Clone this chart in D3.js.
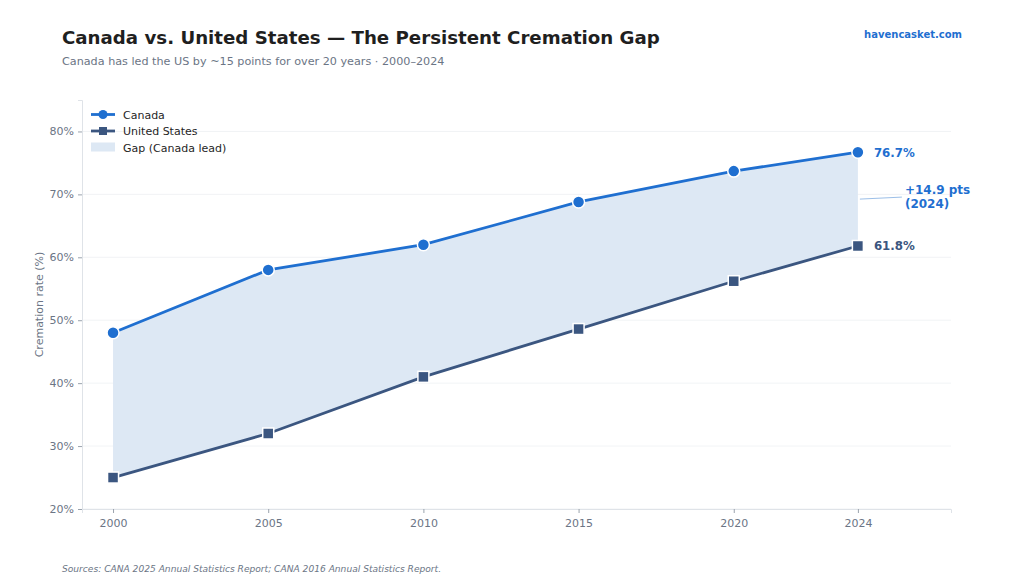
<!DOCTYPE html>
<html>
<head>
<meta charset="utf-8">
<script src="https://cdn.jsdelivr.net/npm/d3@7"></script>
<style>
  body { margin: 0; background: #fff; }
  svg { display: block; font-family: "DejaVu Sans", sans-serif; }
</style>
</head>
<body>
<div id="chart"></div>
<script>
// data
const years = [2000, 2005, 2010, 2015, 2020, 2024];
const canada = [48.0, 58.0, 62.0, 68.8, 73.7, 76.7];
const unitedStates = [25.0, 32.0, 41.0, 48.6, 56.2, 61.8];
const yTicks = [20, 30, 40, 50, 60, 70, 80];
const xTicks = [2000, 2005, 2010, 2015, 2020, 2024];

const W = 1024, H = 585;
const m = { left: 82, right: 73, top: 100, bottom: 76 };

const blue = '#1f6fd0';
const navy = '#3b5680';
const grey = '#6b7585';

const svg = d3.select('#chart').append('svg')
  .attr('width', W).attr('height', H);

const x = d3.scaleLinear().domain([1999, 2027]).range([m.left, W - m.right]);
const y = d3.scaleLinear().domain([20, 85]).range([H - m.bottom, m.top]);

// title block
svg.append('text').attr('x', 62).attr('y', 44)
  .attr('font-size', 18.2).attr('font-weight', 'bold').attr('fill', '#1f1f1f')
  .text('Canada vs. United States — The Persistent Cremation Gap');
svg.append('text').attr('x', 62).attr('y', 64.5)
  .attr('font-size', 11.2).attr('fill', grey)
  .text('Canada has led the US by ~15 points for over 20 years · 2000–2024');
svg.append('text').attr('x', 962).attr('y', 38).attr('text-anchor', 'end')
  .attr('font-size', 10).attr('font-weight', 'bold').attr('fill', blue)
  .text('havencasket.com');
svg.append('text').attr('x', 62).attr('y', 571.5)
  .attr('font-size', 9.1).attr('font-style', 'italic').attr('fill', grey)
  .text('Sources: CANA 2025 Annual Statistics Report; CANA 2016 Annual Statistics Report.');

// grid
svg.append('g').selectAll('line').data(yTicks).join('line')
  .attr('x1', m.left).attr('x2', W - m.right)
  .attr('y1', d => y(d)).attr('y2', d => y(d))
  .attr('stroke', '#eef0f3').attr('stroke-width', 0.8);

// axes
const yAxis = svg.append('g').attr('transform', `translate(${m.left},0)`)
  .call(d3.axisLeft(y).tickValues(yTicks).tickFormat(d => d + '%').tickSize(4).tickPadding(4));
const xAxis = svg.append('g').attr('transform', `translate(0,${H - m.bottom})`)
  .call(d3.axisBottom(x).tickValues(xTicks).tickFormat(d3.format('d')).tickSize(4).tickPadding(6));
[yAxis, xAxis].forEach(a => {
  a.select('.domain').attr('stroke', '#dfe3e8');
  a.selectAll('.tick line').attr('stroke', '#9aa3ad');
  a.selectAll('.tick text').attr('fill', grey).attr('font-size', 11)
    .attr('font-family', '"DejaVu Sans", sans-serif');
});

svg.append('text')
  .attr('transform', `translate(43,${y(52.5)}) rotate(-90)`)
  .attr('text-anchor', 'middle').attr('font-size', 11).attr('fill', grey)
  .text('Cremation rate (%)');

const rows = years.map((yr, i) => ({ yr, ca: canada[i], us: unitedStates[i] }));

// gap band
svg.append('path').datum(rows)
  .attr('d', d3.area().x(d => x(d.yr)).y0(d => y(d.us)).y1(d => y(d.ca)))
  .attr('fill', '#dde8f4');

// lines
const line = key => d3.line().x(d => x(d.yr)).y(d => y(d[key]));
svg.append('path').datum(rows).attr('d', line('us'))
  .attr('fill', 'none').attr('stroke', navy).attr('stroke-width', 2.8);
svg.append('path').datum(rows).attr('d', line('ca'))
  .attr('fill', 'none').attr('stroke', blue).attr('stroke-width', 2.8);

// markers
svg.append('g').selectAll('rect').data(rows).join('rect')
  .attr('x', d => x(d.yr) - 5.5).attr('y', d => y(d.us) - 5.5)
  .attr('width', 11).attr('height', 11)
  .attr('fill', navy).attr('stroke', '#fff').attr('stroke-width', 1.5);
svg.append('g').selectAll('circle').data(rows).join('circle')
  .attr('cx', d => x(d.yr)).attr('cy', d => y(d.ca)).attr('r', 6)
  .attr('fill', blue).attr('stroke', '#fff').attr('stroke-width', 1.5);

// end labels
const last = rows[rows.length - 1];
svg.append('text').attr('x', x(last.yr) + 16).attr('y', y(last.ca) + 4.5)
  .attr('font-size', 11.8).attr('font-weight', 'bold').attr('fill', blue)
  .text(last.ca.toFixed(1) + '%');
svg.append('text').attr('x', x(last.yr) + 16).attr('y', y(last.us) + 4.5)
  .attr('font-size', 11.8).attr('font-weight', 'bold').attr('fill', navy)
  .text(last.us.toFixed(1) + '%');

// gap annotation
const gap = last.ca - last.us;
const mid = (last.ca + last.us) / 2;
svg.append('line')
  .attr('x1', x(last.yr) + 2).attr('y1', y(mid))
  .attr('x2', x(last.yr) + 44).attr('y2', y(mid) - 2)
  .attr('stroke', '#9cbfe8').attr('stroke-width', 1);
const ann = svg.append('text').attr('x', x(last.yr) + 47).attr('y', y(mid) - 5)
  .attr('font-size', 12).attr('font-weight', 'bold').attr('fill', blue);
ann.append('tspan').text('+' + gap.toFixed(1) + ' pts');
ann.append('tspan').attr('x', x(last.yr) + 47).attr('dy', 13.5).text('(' + last.yr + ')');

// legend
const lg = svg.append('g').attr('transform', `translate(${m.left + 9},114.5)`);
[{ label: 'Canada', c: blue, shape: 'circle' },
 { label: 'United States', c: navy, shape: 'square' }].forEach((it, i) => {
  const g = lg.append('g').attr('transform', `translate(0,${i * 16.5})`);
  g.append('line').attr('x1', 0).attr('x2', 24).attr('stroke', it.c).attr('stroke-width', 2.8);
  if (it.shape === 'circle') {
    g.append('circle').attr('cx', 12).attr('r', 4.5).attr('fill', it.c);
  } else {
    g.append('rect').attr('x', 8).attr('y', -4).attr('width', 8).attr('height', 8).attr('fill', it.c);
  }
  g.append('text').attr('x', 32).attr('y', 4).attr('font-size', 11).attr('fill', '#1f1f1f').text(it.label);
});
lg.append('rect').attr('x', 0).attr('y', 28).attr('width', 24).attr('height', 9).attr('fill', '#dde8f4');
lg.append('text').attr('x', 32).attr('y', 37).attr('font-size', 11).attr('fill', '#1f1f1f').text('Gap (Canada lead)');
</script>
</body>
</html>
